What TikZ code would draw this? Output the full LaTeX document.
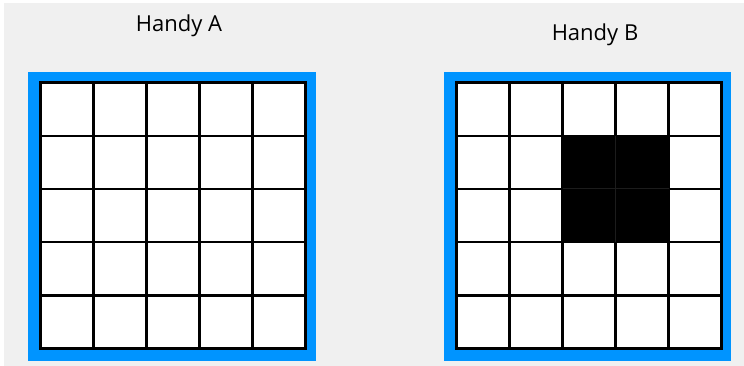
\documentclass[tikz,border=0pt]{standalone}
\usepackage{fontspec}
\setmainfont{Open Sans}
\definecolor{bggray}{RGB}{240,240,240}
\definecolor{handyblue}{RGB}{0,148,255}
\definecolor{faintline}{RGB}{28,28,28}
\tikzset{
  title/.style={anchor=base, inner sep=0pt, font=\fontsize{22}{26}\selectfont, text=black},
  frame/.style={fill=handyblue},
  gridline/.style={draw=black, line width=2.6pt},
}
\begin{document}
\begin{tikzpicture}[x=1pt,y=-1pt]
\useasboundingbox (0,0) rectangle (744,366);
\fill[white] (0,0) rectangle (744,366);
\fill[bggray] (4,3) rectangle (744,366);
% titles
\node[title] (titleA) at (179,31.7) {Handy A};
\node[title] (titleB) at (595,40.7) {Handy B};
% Handy A
\fill[frame] (28.3,72.3) rectangle (315.7,361.3);
\fill[white] (40.2,82.8) rectangle (305.5,348.3);
\foreach \i in {0,...,5} {
  \draw[gridline, line cap=rect] ({40.2+\i*53.06},82.8) -- ({40.2+\i*53.06},348.3);
  \draw[gridline, line cap=rect] (40.2,{82.8+\i*53.1}) -- (305.5,{82.8+\i*53.1});
}
% Handy B
\fill[frame] (444.3,72.3) rectangle (731.3,361.3);
\fill[white] (456.5,82.8) rectangle (721.5,348.3);
\foreach \i in {0,...,5} {
  \draw[gridline, line cap=rect] ({456.5+\i*53},82.8) -- ({456.5+\i*53},348.3);
  \draw[gridline, line cap=rect] (456.5,{82.8+\i*53.1}) -- (721.5,{82.8+\i*53.1});
}
\fill[black] ({456.5+2*53},{82.8+1*53.1}) rectangle ({456.5+4*53},{82.8+3*53.1});
\draw[faintline, line width=1pt] ({456.5+3*53},{82.8+1*53.1}) -- ({456.5+3*53},{82.8+3*53.1});
\draw[faintline, line width=1pt] ({456.5+2*53},{82.8+2*53.1}) -- ({456.5+4*53},{82.8+2*53.1});
\end{tikzpicture}
\end{document}
